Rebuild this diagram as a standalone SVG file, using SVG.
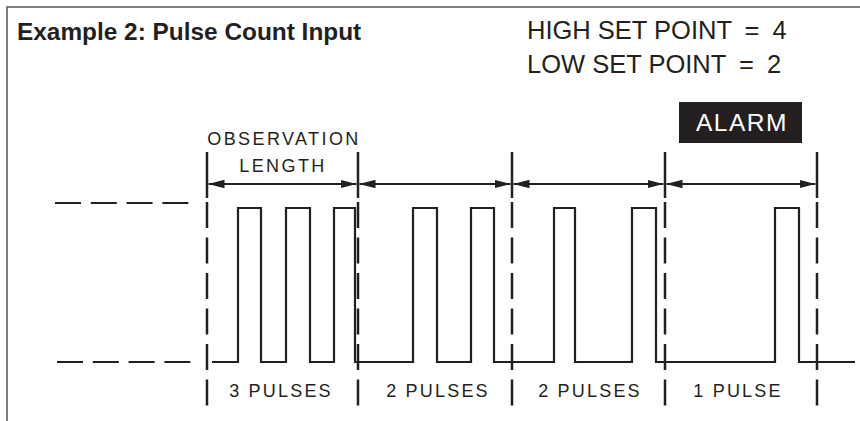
<svg xmlns="http://www.w3.org/2000/svg" width="860" height="421" viewBox="0 0 860 421">
  <defs>
    <marker id="ah" viewBox="0 0 16 10" refX="16" refY="5" markerWidth="16" markerHeight="10" markerUnits="userSpaceOnUse" orient="auto-start-reverse">
      <path d="M0,0.8 L16,5 L0,9.2 z" fill="#231f20"/>
    </marker>
  </defs>
  <style>
    .t { font-family: "Liberation Sans", Arial, sans-serif; fill: #231f20; }
    .title { font-size: 24.4px; font-weight: bold; }
    .sp { font-size: 25.5px; }
    .lab { font-size: 18px; letter-spacing: 2.4px; }
    .cnt { font-size: 18px; letter-spacing: 2.2px; }
    .alarm { font-size: 24.5px; fill: #ffffff; letter-spacing: 1.5px; }
    .bnd { stroke: #231f20; stroke-width: 2.5; fill: none; }
    .bndd { stroke: #231f20; stroke-width: 2.5; fill: none; stroke-dasharray: 26 9.5; }
    .lvl { stroke: #231f20; stroke-width: 2; fill: none; stroke-dasharray: 26 9.8; }
    .sig { stroke: #231f20; stroke-width: 2.2; fill: none; stroke-linejoin: miter; }
    .arr { stroke: #231f20; stroke-width: 2; fill: none; }
  </style>
  <rect width="860" height="421" fill="#ffffff"/>
  <g id="frame">
    <path d="M7,421 V7 H860" fill="none" stroke="#555" stroke-width="1.5"/>
  </g>
  <g id="title">
    <text class="t title" x="17" y="40">Example 2: Pulse Count Input</text>
  </g>
  <g id="setpoints">
    <text class="t sp" x="527" y="39">HIGH SET POINT <tspan dx="6">=</tspan> <tspan dx="6">4</tspan></text>
    <text class="t sp" x="527" y="73">LOW SET POINT <tspan dx="6">=</tspan> <tspan dx="6">2</tspan></text>
  </g>
  <g id="alarm">
    <rect x="679" y="102" width="123" height="41" fill="#231f20"/>
    <text class="t alarm" x="742" y="131" text-anchor="middle">ALARM</text>
  </g>
  <g id="observation-label">
    <text class="t lab" x="284" y="145" text-anchor="middle">OBSERVATION</text>
    <text class="t lab" x="283" y="172" text-anchor="middle">LENGTH</text>
  </g>
  <g id="levels">
    <line class="lvl" x1="55" y1="203" x2="190" y2="203"/>
    <line class="lvl" x1="57" y1="362" x2="196" y2="362"/>
  </g>
  <g id="boundaries">
    <line class="bnd" x1="207" y1="152" x2="207" y2="198"/>
    <line class="bndd" x1="207" y1="202" x2="207" y2="406"/>
    <line class="bnd" x1="358" y1="152" x2="358" y2="198"/>
    <line class="bndd" x1="358" y1="202" x2="358" y2="406"/>
    <line class="bnd" x1="512" y1="152" x2="512" y2="198"/>
    <line class="bndd" x1="512" y1="202" x2="512" y2="406"/>
    <line class="bnd" x1="665" y1="152" x2="665" y2="198"/>
    <line class="bndd" x1="665" y1="202" x2="665" y2="406"/>
    <line class="bnd" x1="817" y1="152" x2="817" y2="198"/>
    <line class="bndd" x1="817" y1="202" x2="817" y2="406"/>
  </g>
  <g id="signal">
    <path class="sig" d="M212,362 H238 V208 H261 V362 H286 V208 H310 V362 H334 V208 H355 V362 H413 V208 H437 V362 H471 V208 H494 V362 H554 V208 H575 V362 H632 V208 H656 V362 H775 V208 H799 V362 H855"/>
  </g>
  <g id="connectors">
    <line class="arr" x1="208.5" y1="184" x2="356.5" y2="184" marker-start="url(#ah)" marker-end="url(#ah)"/>
    <line class="arr" x1="359.5" y1="184" x2="510.5" y2="184" marker-start="url(#ah)" marker-end="url(#ah)"/>
    <line class="arr" x1="513.5" y1="184" x2="663.5" y2="184" marker-start="url(#ah)" marker-end="url(#ah)"/>
    <line class="arr" x1="666.5" y1="184" x2="815.5" y2="184" marker-start="url(#ah)" marker-end="url(#ah)"/>
  </g>
  <g id="counts">
    <text class="t cnt" x="281" y="397" text-anchor="middle">3 PULSES</text>
    <text class="t cnt" x="438" y="397" text-anchor="middle">2 PULSES</text>
    <text class="t cnt" x="590" y="397" text-anchor="middle">2 PULSES</text>
    <text class="t cnt" x="738" y="397" text-anchor="middle">1 PULSE</text>
  </g>
</svg>
